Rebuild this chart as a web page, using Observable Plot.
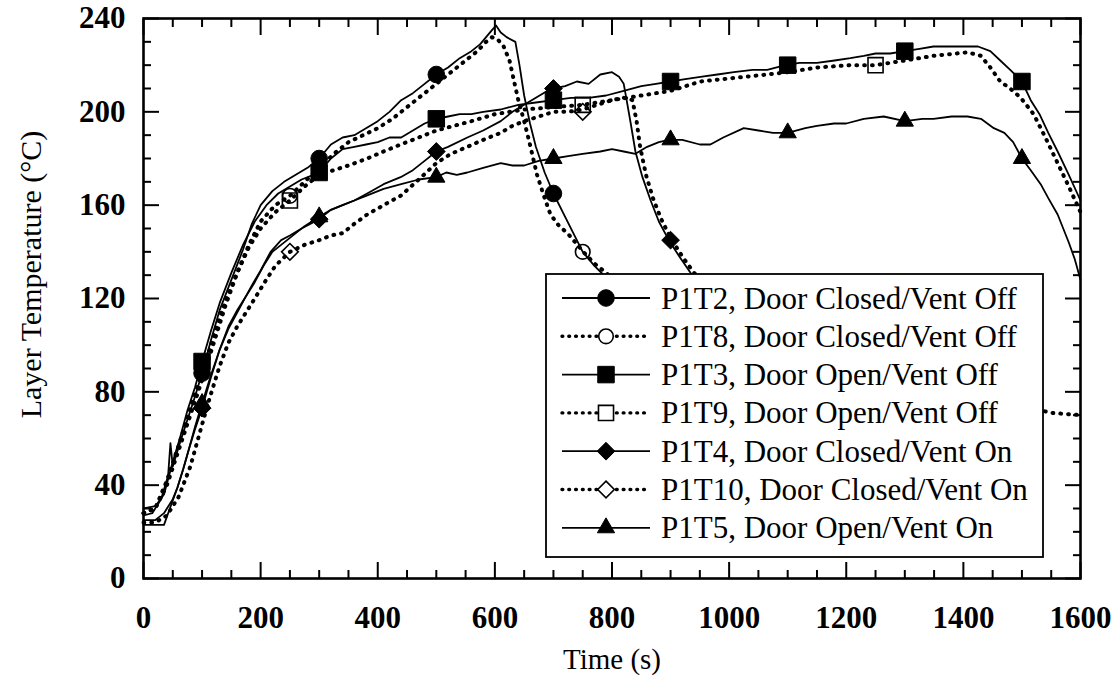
<!DOCTYPE html>
<html><head><meta charset="utf-8">
<script src="https://cdn.jsdelivr.net/npm/d3@7"></script>
<script src="https://cdn.jsdelivr.net/npm/@observablehq/plot@0.6"></script>
<style>html,body{margin:0;padding:0;background:#fff;} #chart svg{display:block;}</style>
</head><body><div id="chart"></div>
<script>
// ---------- data (time s, temperature °C) ----------
const xTickLabels = [0, 200, 400, 600, 800, 1000, 1200, 1400, 1600];
const yTickLabels = [0, 40, 80, 120, 160, 200, 240];
const legendLabels = [
  "P1T2, Door Closed/Vent Off",
  "P1T8, Door Closed/Vent Off",
  "P1T3, Door Open/Vent Off",
  "P1T9, Door Open/Vent Off",
  "P1T4, Door Closed/Vent On",
  "P1T10, Door Closed/Vent On",
  "P1T5, Door Open/Vent On"
];

const p1t2 = [[0,27],[15,28],[30,34],[42,44],[46,58],[50,48],[62,58],[75,68],[88,78],[100,88],[115,102],[130,115],[150,128],[170,141],[185,152],[200,160],[220,166],[240,170],[260,173],[280,176],[300,180],[320,186],[340,189],[360,190],[380,193],[400,196],[420,200],[440,205],[460,208],[480,212],[500,216],[520,219],[540,223],[560,226],[575,229],[585,232],[595,235],[602,237],[610,234],[620,232],[635,230],[642,220],[650,207],[660,195],[670,185],[685,174],[700,165],[720,155],[750,140],[770,134],[790,129],[820,122],[860,115],[900,109],[1000,98],[1100,90],[1200,84],[1300,79],[1400,75],[1500,72]];
const p1t2Markers = [[100,88],[300,180],[500,216],[700,165],[900,109],[1100,90],[1300,79],[1500,72]];

const p1t8 = [[0,28],[20,30],[40,40],[60,55],[80,70],[100,85],[120,101],[140,117],[160,131],[180,143],[200,153],[225,160],[250,164],[275,170],[300,176],[325,182],[350,187],[375,190],[400,193],[425,197],[450,202],[475,207],[500,212],[525,217],[550,222],[570,226],[585,230],[595,232],[605,231],[615,228],[625,222],[632,214],[640,205],[650,196],[658,188],[672,173],[685,163],[695,156],[710,151],[724,148],[751,140],[770,135],[790,131],[820,124],[860,117],[900,111],[1000,100],[1100,92],[1200,85],[1300,80],[1400,76],[1500,73]];
const p1t8Markers = [[250,164],[750,140],[1250,82]];

const p1t3 = [[0,30],[20,31],[35,36],[50,50],[62,60],[75,72],[88,82],[100,93],[115,106],[130,118],[150,131],[170,143],[190,153],[210,160],[230,165],[250,168],[270,171],[300,174],[320,180],[340,184],[360,185],[380,186],[400,187],[420,189],[440,189],[460,192],[480,195],[500,197],[520,198],[540,199],[560,199],[580,200],[610,201],[640,203],[670,204],[700,205],[730,206],[760,206],[790,207],[820,209],[850,211],[875,212],[900,213],[925,214],[951,215],[980,216],[1008,217],[1040,218],[1065,218],[1096,220],[1120,221],[1150,221],[1180,222],[1207,223],[1230,224],[1250,225],[1275,225],[1300,226],[1325,227],[1349,228],[1375,228],[1407,228],[1425,228],[1446,226],[1463,222],[1480,218],[1500,213],[1515,205],[1530,199],[1545,191],[1561,183],[1580,173],[1600,162]];
const p1t3Markers = [[100,93],[300,174],[500,197],[700,205],[900,213],[1100,220],[1300,226],[1500,213]];

const p1t9 = [[0,28],[20,30],[40,42],[60,57],[80,73],[100,88],[120,104],[140,119],[160,131],[180,142],[200,150],[225,157],[250,162],[275,168],[300,173],[325,175],[350,177],[382,180],[410,183],[439,186],[470,189],[500,192],[530,194],[560,196],[600,199],[650,201],[700,202],[750,203],[800,205],[850,207],[900,209],[951,213],[1008,214.5],[1065,216],[1100,217],[1150,219],[1207,220],[1250,220],[1300,222],[1349,224],[1407,225.5],[1430,224],[1446,219],[1463,213],[1480,210],[1498,206],[1520,199],[1540,189],[1561,178],[1580,168],[1600,157]];
const p1t9Markers = [[250,162],[750,203],[1250,220]];

const p1t4 = [[0,25],[20,25],[35,28],[50,34],[58,39],[68,47],[77,55],[88,64],[100,73],[115,86],[130,98],[145,108],[160,115],[175,121],[186,126],[200,132],[217,140],[235,145],[250,147],[270,150],[300,154],[320,158],[340,160],[360,162],[382,165],[410,169],[439,172],[460,175],[480,179],[500,183],[520,185],[553,189],[580,192],[610,196],[630,200],[650,203],[670,206],[690,209],[700,210],[720,211],[740,213],[760,212],[780,216],[800,217],[812,215],[820,212],[825,205],[832,195],[840,183],[852,172],[866,162],[880,153],[897,145],[915,138],[934,131],[960,124],[1000,116],[1100,101],[1200,90],[1300,82],[1400,77],[1500,73]];
const p1t4Markers = [[100,73],[300,154],[500,183],[700,210],[900,145],[1100,101],[1300,82],[1500,73]];

const p1t10 = [[0,24],[20,24],[40,27],[60,35],[80,48],[100,66],[115,79],[130,91],[145,101],[160,108],[175,114],[190,120],[207,127],[225,134],[250,140],[275,143],[300,145],[320,147],[340,148],[360,152],[382,156],[410,160],[439,164],[470,171],[500,178],[525,182],[553,185],[580,188],[610,191],[630,194],[650,196],[675,198],[700,200],[725,200],[750,201],[775,203],[800,205],[820,206],[835,205],[842,196],[848,185],[858,173],[870,163],[884,154],[900,146],[920,138],[940,131],[970,124],[1000,118],[1100,104],[1200,93],[1300,85],[1400,79],[1500,74],[1550,71],[1600,70]];
const p1t10Markers = [[250,140],[750,200],[1250,89]];

const p1t5 = [[0,23],[20,23],[35,23],[45,30],[58,39],[68,47],[77,55],[88,65],[100,75],[115,87],[130,98],[145,107],[160,114],[175,121],[190,127],[205,134],[220,140],[235,143],[250,146],[275,151],[300,155],[320,158],[340,160],[360,162],[380,164],[410,167],[440,169],[470,171],[500,172],[517,174],[535,173],[553,174],[580,176],[610,178],[630,177],[650,177],[675,179],[700,180],[725,181],[750,182],[780,183],[800,184],[820,183],[840,182],[860,185],[880,187],[897,188],[920,188],[950,186],[968,186],[990,189],[1025,193],[1050,192],[1075,191],[1100,191],[1130,193],[1150,194],[1179,195],[1200,195],[1230,197],[1264,198],[1300,196],[1330,197],[1349,197],[1380,198],[1407,198],[1430,197],[1452,193],[1470,191],[1485,187],[1500,180],[1515,175],[1532,169],[1545,163],[1561,156],[1580,144],[1590,137],[1600,128]];
const p1t5Markers = [[100,75],[300,155],[500,172],[700,180],[900,188],[1100,191],[1300,196],[1500,180]];

// ---------- styling ----------
const FONT = "'Liberation Serif', 'Times New Roman', Times, serif";
const series = [
  {label: legendLabels[0], data: p1t2, markers: p1t2Markers, dotted: false, symbol: "circle", filled: true, r: 8.3},
  {label: legendLabels[1], data: p1t8, markers: p1t8Markers, dotted: true, symbol: "circle", filled: false, r: 7.3},
  {label: legendLabels[2], data: p1t3, markers: p1t3Markers, dotted: false, symbol: "square", filled: true, r: 9.3},
  {label: legendLabels[3], data: p1t9, markers: p1t9Markers, dotted: true, symbol: "square", filled: false, r: 8.5},
  {label: legendLabels[4], data: p1t4, markers: p1t4Markers, dotted: false, symbol: "diamond2", filled: true, r: 8},
  {label: legendLabels[5], data: p1t10, markers: p1t10Markers, dotted: true, symbol: "diamond2", filled: false, r: 7.5},
  {label: legendLabels[6], data: p1t5, markers: p1t5Markers, dotted: false, symbol: "triangle", filled: true, r: 6.4}
];
const solidStyle = {stroke: "black", strokeWidth: 1.8};
const dottedStyle = {stroke: "black", strokeWidth: 4, strokeDasharray: "0.8,7", strokeLinecap: "round"};

const lineMarks = series.map(s => Plot.line(s.data, {x: d => d[0], y: d => d[1], ...(s.dotted ? dottedStyle : solidStyle)}));
const dotMarks = series.map(s => Plot.dot(s.markers, {
  x: d => d[0], y: d => d[1], symbol: s.symbol, r: s.r,
  fill: s.filled ? "black" : "none", stroke: "black", strokeWidth: s.filled ? 1 : 1.6
}));

const xMinor = d3.range(0, 1601, 50).filter(v => v % 200 !== 0);
const xMajor = d3.range(0, 1601, 200);
const yMinor = d3.range(0, 241, 10).filter(v => v % 40 !== 0);
const yMajor = d3.range(0, 241, 40);
const tickStyle = {fill: "none", strokeWidth: 2, label: null};

const chart = Plot.plot({
  width: 1118,
  height: 689,
  marginLeft: 143,
  marginRight: 38,
  marginTop: 18,
  marginBottom: 111,
  style: {fontFamily: FONT, background: "white", color: "black"},
  x: {domain: [0, 1600]},
  y: {domain: [0, 240]},
  marks: [
    ...lineMarks,
    ...dotMarks,
    Plot.frame({stroke: "black", strokeWidth: 2.6}),
    Plot.axisX({anchor: "bottom", ticks: xMinor, tickSize: -8, ...tickStyle}),
    Plot.axisX({anchor: "bottom", ticks: xMajor, tickSize: -16, ...tickStyle}),
    Plot.axisX({anchor: "top", ticks: xMinor, tickSize: -8, ...tickStyle}),
    Plot.axisX({anchor: "top", ticks: xMajor, tickSize: -16, ...tickStyle}),
    Plot.axisY({anchor: "left", ticks: yMinor, tickSize: -8, ...tickStyle}),
    Plot.axisY({anchor: "left", ticks: yMajor, tickSize: -16, ...tickStyle}),
    Plot.axisY({anchor: "right", ticks: yMinor, tickSize: -8, ...tickStyle}),
    Plot.axisY({anchor: "right", ticks: yMajor, tickSize: -16, ...tickStyle}),
    Plot.axisX({anchor: "bottom", ticks: xTickLabels, tickSize: 0, tickPadding: 27, fontSize: 31, fontWeight: "bold", label: null, tickFormat: d => String(d)}),
    Plot.axisY({anchor: "left", ticks: yTickLabels, tickSize: 0, tickPadding: 18, fontSize: 31, fontWeight: "bold", label: null, tickFormat: d => String(d)}),
    Plot.text(["Layer Temperature (°C)"], {text: d => d, frameAnchor: "left", textAnchor: "middle", lineAnchor: "middle", rotate: -90, dx: -112, dy: -24, fontSize: 30}),
    Plot.text(["Time (s)"], {text: d => d, frameAnchor: "bottom", textAnchor: "middle", dy: 90, fontSize: 29})
  ]
});
document.getElementById("chart").appendChild(chart);

// ---------- legend (inside plot area, opaque box) ----------
const svg = d3.select(chart);
const lg = svg.append("g").attr("font-family", FONT).attr("text-anchor", "start");
const box = {x: 546, y: 274, w: 497, h: 283};
lg.append("rect").attr("x", box.x).attr("y", box.y).attr("width", box.w).attr("height", box.h)
  .attr("fill", "white").attr("stroke", "black").attr("stroke-width", 1.8);
const symbolMap = {circle: d3.symbolCircle, square: d3.symbolSquare, diamond2: d3.symbolDiamond2, triangle: d3.symbolTriangle};
series.forEach((s, i) => {
  const cy = 298 + i * 38.3;
  const st = s.dotted ? dottedStyle : solidStyle;
  lg.append("line").attr("x1", 562).attr("x2", 650).attr("y1", cy).attr("y2", cy)
    .attr("stroke", "black").attr("stroke-width", s.dotted ? 3.4 : st.strokeWidth)
    .attr("stroke-dasharray", s.dotted ? "0.8,6" : null)
    .attr("stroke-linecap", s.dotted ? "round" : "butt");
  lg.append("path").attr("transform", `translate(606,${cy})`)
    .attr("d", d3.symbol(symbolMap[s.symbol], Math.PI * s.r * s.r)())
    .attr("fill", s.filled ? "black" : "white").attr("stroke", "black").attr("stroke-width", s.filled ? 1 : 1.6);
  lg.append("text").attr("x", 661).attr("y", cy).attr("dy", "0.34em").attr("text-anchor", "start")
    .attr("font-size", 31).attr("fill", "black").text(s.label);
});
</script></body></html>
